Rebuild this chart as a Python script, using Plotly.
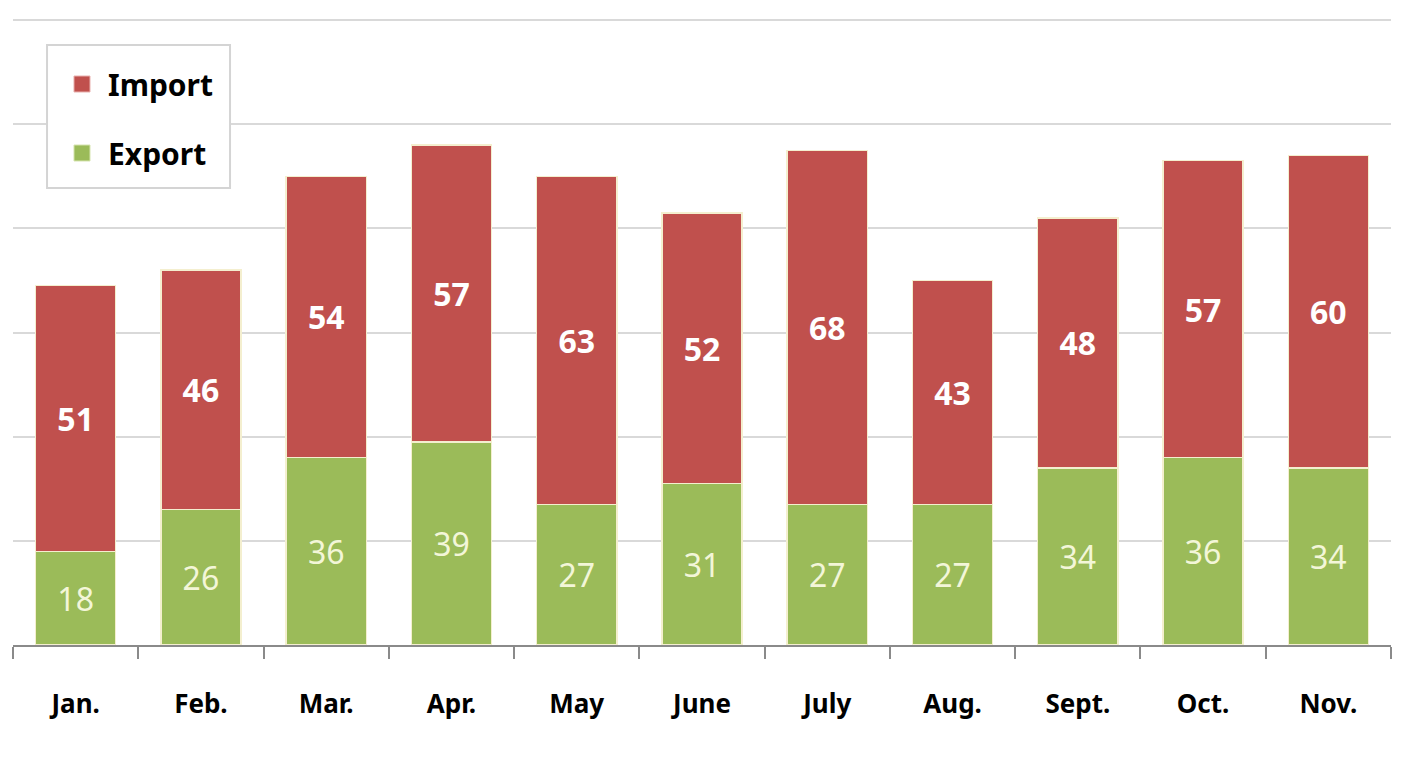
import plotly.graph_objects as go

months = ["Jan.", "Feb.", "Mar.", "Apr.", "May", "June", "July", "Aug.", "Sept.", "Oct.", "Nov."]
export_vals = [18, 26, 36, 39, 27, 31, 27, 27, 34, 36, 34]
import_vals = [51, 46, 54, 57, 63, 52, 68, 43, 48, 57, 60]

RED = "#c0504d"
GREEN = "#9bbb59"
EDGE = "#f4efcf"

fig = go.Figure()
fig.add_trace(go.Bar(
    x=months, y=export_vals, name="Export", showlegend=False,
    marker=dict(color=GREEN, line=dict(color=EDGE, width=1.5)),
    text=export_vals, textposition="inside", insidetextanchor="middle",
    textfont=dict(family="Noto Sans", size=32, color="#f3f6d8"),
    width=0.64,
))
fig.add_trace(go.Bar(
    x=months, y=import_vals, name="Import", showlegend=False,
    marker=dict(color=RED, line=dict(color=EDGE, width=1.5)),
    text=import_vals, textposition="inside", insidetextanchor="middle",
    textfont=dict(family="Noto Sans", size=32, color="white", weight="bold"),
    width=0.64,
))
# legend entries with larger square markers
fig.add_trace(go.Scatter(x=[None], y=[None], mode="markers", name="Import",
                         legendgroup="imp",
                         marker=dict(symbol="square", size=18, color=RED,
                                     line=dict(color="#e8b0ae", width=1))))
fig.add_trace(go.Scatter(x=[None], y=[None], mode="markers", name="Export",
                         legendgroup="exp",
                         marker=dict(symbol="square", size=18, color=GREEN,
                                     line=dict(color="#d6e4b0", width=1))))

# legend frame
fig.add_shape(type="rect", xref="paper", yref="paper",
              x0=0.0247, x1=0.1575, y0=0.7289, y1=0.957,
              line=dict(color="#d4d4d4", width=2), fillcolor="white", layer="above")

fig.update_layout(
    barmode="stack",
    width=1421, height=769,
    margin=dict(l=5, r=38, t=10, b=132),
    paper_bgcolor="white", plot_bgcolor="white",
    showlegend=True,
    legend=dict(
        x=0.0312, y=0.8397, xanchor="left", yanchor="middle",
        bgcolor="rgba(0,0,0,0)", borderwidth=0,
        font=dict(family="Noto Sans", size=30, color="black", weight="bold"),
        traceorder="grouped", tracegroupgap=27,
        itemwidth=42,
    ),
    xaxis=dict(
        type="category", range=[-0.5, 10.5],
        showline=True, linecolor="#8a8a8a", linewidth=2,
        ticks="outside", tickson="boundaries", ticklen=12, tickwidth=2, tickcolor="#8a8a8a",
        tickfont=dict(family="Noto Sans", size=26, color="black", weight="bold"),
        ticklabelstandoff=35,
        showgrid=False,
    ),
    yaxis=dict(
        range=[0, 120.4], tickvals=[20, 40, 60, 80, 100, 120], showticklabels=False,
        showgrid=True, gridcolor="#d9d9d9", gridwidth=2,
        zeroline=False, showline=False,
    ),
)

fig.write_html("out.html")
